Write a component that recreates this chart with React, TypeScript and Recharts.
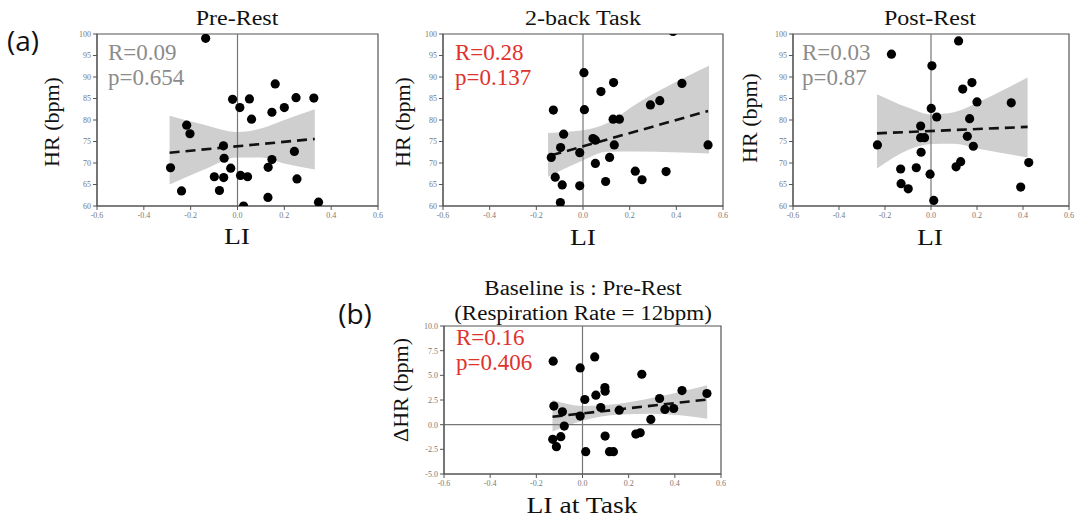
import React from 'react';
import { ComposedChart, XAxis, YAxis, Area, Line, Scatter, ReferenceLine, ReferenceArea } from 'recharts';

const SERIF = '"Liberation Serif", "Times New Roman", serif';
const SANS = '"Open Sans", "Noto Sans", sans-serif';

const xTicks = [-0.6, -0.4, -0.2, 0.0, 0.2, 0.4, 0.6];
const hrTicks = [60, 65, 70, 75, 80, 85, 90, 95, 100];
const dhrTicks = [-5, -2.5, 0, 2.5, 5, 7.5, 10];

// Pre-Rest
const preLI = [-0.136, -0.021, 0.01, 0.051, 0.06, 0.161, 0.147, 0.2, 0.25, 0.326, -0.217, -0.203, -0.06, -0.057, -0.286, -0.099, -0.059, -0.029, 0.013, 0.043, 0.147, 0.131, 0.243, 0.254, -0.239, -0.077, 0.026, 0.13, 0.346];
const preHR = [99.0, 84.8, 82.9, 84.9, 80.2, 88.4, 81.8, 82.9, 85.2, 85.1, 78.8, 76.8, 74.0, 71.1, 68.9, 66.8, 66.6, 68.8, 67.1, 66.8, 70.8, 69.0, 72.7, 66.3, 63.5, 63.6, 60.0, 62.0, 60.9];
const preBandX = [-0.29, -0.15, 0.0, 0.1, 0.2, 0.33];
const preBandLo = [65.0, 68.3, 71.3, 71.3, 69.9, 68.5];
const preBandHi = [81.0, 79.0, 77.2, 78.0, 80.0, 82.5];
const preFitX = [-0.29, 0.33];
const preFitY = [72.4, 75.6];

// 2-back Task
const taskLI = [0.386, 0.004, 0.077, 0.131, -0.127, 0.006, 0.129, 0.156, 0.289, 0.329, 0.424, -0.083, 0.043, 0.053, 0.134, 0.536, -0.096, -0.136, -0.014, 0.114, 0.053, -0.119, -0.089, -0.014, 0.097, 0.224, 0.253, 0.356, -0.097];
const taskHR = [100.6, 91.0, 86.6, 88.7, 82.3, 82.4, 80.2, 80.2, 83.5, 84.5, 88.5, 76.7, 75.7, 75.3, 74.2, 74.2, 73.6, 71.3, 72.4, 71.3, 69.9, 66.7, 64.9, 64.7, 65.7, 68.1, 66.1, 68.0, 60.8];
const taskBandX = [-0.15, 0.0, 0.1, 0.23, 0.54];
const taskBandLo = [66.8, 70.6, 72.6, 72.7, 72.2];
const taskBandHi = [77.0, 77.6, 79.2, 83.8, 92.6];
const taskFitX = [-0.135, 0.536];
const taskFitY = [71.8, 82.1];

// Post-Rest
const postLI = [0.12, -0.172, 0.004, 0.138, 0.178, 0.2, 0.349, 0.001, 0.025, 0.168, -0.045, -0.045, -0.028, 0.158, -0.233, 0.184, -0.043, 0.129, 0.109, 0.425, -0.132, -0.064, -0.004, -0.13, -0.099, 0.39, 0.012];
const postHR = [98.4, 95.3, 92.6, 87.2, 88.7, 84.2, 84.0, 82.7, 80.7, 80.3, 78.6, 75.9, 75.9, 76.2, 74.2, 73.9, 72.5, 70.3, 69.1, 70.1, 68.6, 68.9, 67.4, 65.2, 64.0, 64.4, 61.3];
const postBandX = [-0.235, -0.1, 0.0, 0.1, 0.2, 0.42];
const postBandLo = [68.7, 73.0, 74.4, 74.5, 73.4, 71.3];
const postBandHi = [86.0, 82.9, 81.3, 81.8, 84.0, 89.9];
const postFitX = [-0.235, 0.42];
const postFitY = [76.9, 78.4];

// Delta HR vs LI at task
const dLI = [0.053, -0.127, -0.01, 0.257, 0.097, 0.098, 0.058, 0.01, 0.431, 0.539, 0.334, -0.124, -0.087, 0.079, 0.159, 0.357, 0.395, -0.01, 0.296, -0.079, -0.129, -0.094, -0.113, 0.098, 0.231, 0.25, 0.014, 0.117, 0.134];
const dHR = [6.87, 6.43, 5.75, 5.11, 3.76, 3.39, 2.99, 2.55, 3.46, 3.16, 2.65, 1.88, 1.3, 1.74, 1.47, 1.54, 1.64, 0.87, 0.53, -0.14, -1.49, -1.22, -2.23, -1.16, -0.95, -0.82, -2.74, -2.74, -2.74];
const dBandX = [-0.13, 0.0, 0.15, 0.3, 0.54];
const dBandLo = [-0.7, 0.4, 1.0, 1.1, 0.6];
const dBandHi = [2.5, 1.9, 2.1, 2.7, 4.0];
const dFitX = [-0.13, 0.54];
const dFitY = [0.8, 2.55];

const zip = (xs: number[], ys: number[]) => xs.map((x, i) => ({ x, y: ys[i] }));
const bandRows = (xs: number[], lo: number[], hi: number[]) => xs.map((x, i) => ({ x, band: [lo[i], hi[i]] }));

const Dot = (props: any) => <circle cx={props.cx} cy={props.cy} r={4.6} fill="#000" />;

interface PanelProps {
  left: number; top: number; width: number; height: number;
  domain: [number, number]; yTicks: number[]; yFmt: (v: number) => string;
  pts: { x: number; y: number }[]; band: any[]; fit: { x: number; y: number }[];
  zeroY?: boolean;
}

const Panel = ({ left, top, width, height, domain, yTicks, yFmt, pts, band, fit, zeroY }: PanelProps) => {
  const tick = { fontSize: 8, fill: '#777', fontFamily: SERIF };
  return (
    <div style={{ position: 'absolute', left: left - 40, top: top - 10 }}>
      <ComposedChart width={width + 50} height={height + 30} data={band} margin={{ top: 10, right: 10, bottom: 0, left: 0 }}>
        <XAxis dataKey="x" type="number" domain={[-0.6, 0.6]} ticks={xTicks} allowDataOverflow
          tickFormatter={(v: number) => v.toFixed(1)} tick={tick} tickSize={4} height={20}
          stroke="#555" interval={0} />
        <YAxis type="number" domain={domain} ticks={yTicks} allowDataOverflow tickFormatter={yFmt}
          tick={tick} tickSize={4} width={40} stroke="#555" interval={0} />
        <Area dataKey="band" type="monotone" fill="#cfcfcf" fillOpacity={1} stroke="none" isAnimationActive={false} />
        <ReferenceLine x={0} stroke="#777" strokeWidth={1.2} />
        {zeroY && <ReferenceLine y={0} stroke="#777" strokeWidth={1.2} />}
        <ReferenceArea x1={-0.6} x2={0.6} y1={domain[0]} y2={domain[1]} fill="none" stroke="#555" strokeWidth={1.2} />
        <Line data={fit} dataKey="y" stroke="#111" strokeWidth={2.6} strokeDasharray="10 6" dot={false} isAnimationActive={false} />
        <Scatter data={pts} dataKey="y" shape={Dot} isAnimationActive={false} />
      </ComposedChart>
    </div>
  );
};

// centred text
const T = ({ x, y, size, children, color = '#111', sx = 1, rot = 0, font = SERIF }: any) => (
  <div style={{
    position: 'absolute', left: x, top: y, fontFamily: font, fontSize: size, color, lineHeight: 1,
    whiteSpace: 'nowrap', transform: `translate(-50%, -50%) rotate(${rot}deg) scaleX(${sx})`,
  }}>{children}</div>
);

// left-aligned stats block
const Stats = ({ x, y, color, r, p }: any) => (
  <div style={{ position: 'absolute', left: x, top: y, fontFamily: SERIF, fontSize: 23, color, lineHeight: '25px', whiteSpace: 'nowrap' }}>
    <div>{r}</div>
    <div>{p}</div>
  </div>
);

const hrFmt = (v: number) => String(v);
const dFmt = (v: number) => v.toFixed(1);

export default function App() {
  const red = '#e0322c';
  const grey = '#8c8c8c';
  return (
    <div style={{ position: 'absolute', left: 0, top: 0, width: 1079, height: 518, background: '#fff', overflow: 'hidden' }}>
      <Panel left={97} top={34} width={281} height={172} domain={[60, 100]} yTicks={hrTicks} yFmt={hrFmt}
        pts={zip(preLI, preHR)} band={bandRows(preBandX, preBandLo, preBandHi)} fit={zip(preFitX, preFitY)} />
      <Panel left={443} top={34} width={280} height={172} domain={[60, 100]} yTicks={hrTicks} yFmt={hrFmt}
        pts={zip(taskLI, taskHR)} band={bandRows(taskBandX, taskBandLo, taskBandHi)} fit={zip(taskFitX, taskFitY)} />
      <Panel left={793} top={34} width={276} height={172} domain={[60, 100]} yTicks={hrTicks} yFmt={hrFmt}
        pts={zip(postLI, postHR)} band={bandRows(postBandX, postBandLo, postBandHi)} fit={zip(postFitX, postFitY)} />
      <Panel left={444} top={326} width={277} height={148} domain={[-5, 10]} yTicks={dhrTicks} yFmt={dFmt}
        pts={zip(dLI, dHR)} band={bandRows(dBandX, dBandLo, dBandHi)} fit={zip(dFitX, dFitY)} zeroY />

      <T x={23} y={40} size={28} font={SANS}>(a)</T>
      <T x={355} y={313} size={28} font={SANS}>(b)</T>

      <T x={237} y={18} size={20} sx={1.2}>Pre-Rest</T>
      <T x={583} y={18} size={20} sx={1.2}>2-back Task</T>
      <T x={930} y={18} size={20} sx={1.2}>Post-Rest</T>

      <T x={52} y={122} size={22} rot={-90}>HR (bpm)</T>
      <T x={403} y={122} size={22} rot={-90}>HR (bpm)</T>
      <T x={750} y={118} size={22} rot={-90}>HR (bpm)</T>
      <T x={401} y={390} size={22} rot={-90}>ΔHR (bpm)</T>

      <T x={237} y={236} size={24} sx={1.15}>LI</T>
      <T x={583} y={237} size={24} sx={1.15}>LI</T>
      <T x={930} y={237} size={24} sx={1.15}>LI</T>
      <T x={582} y={505} size={24} sx={1.15}>LI at Task</T>

      <T x={583} y={288} size={20} sx={1.15}>Baseline is : Pre-Rest</T>
      <T x={583} y={313} size={20} sx={1.15}>(Respiration Rate = 12bpm)</T>

      <Stats x={108} y={40} color={grey} r="R=0.09" p="p=0.654" />
      <Stats x={455} y={40} color={red} r="R=0.28" p="p=0.137" />
      <Stats x={802} y={40} color={grey} r="R=0.03" p="p=0.87" />
      <Stats x={456} y={325} color={red} r="R=0.16" p="p=0.406" />
    </div>
  );
}
